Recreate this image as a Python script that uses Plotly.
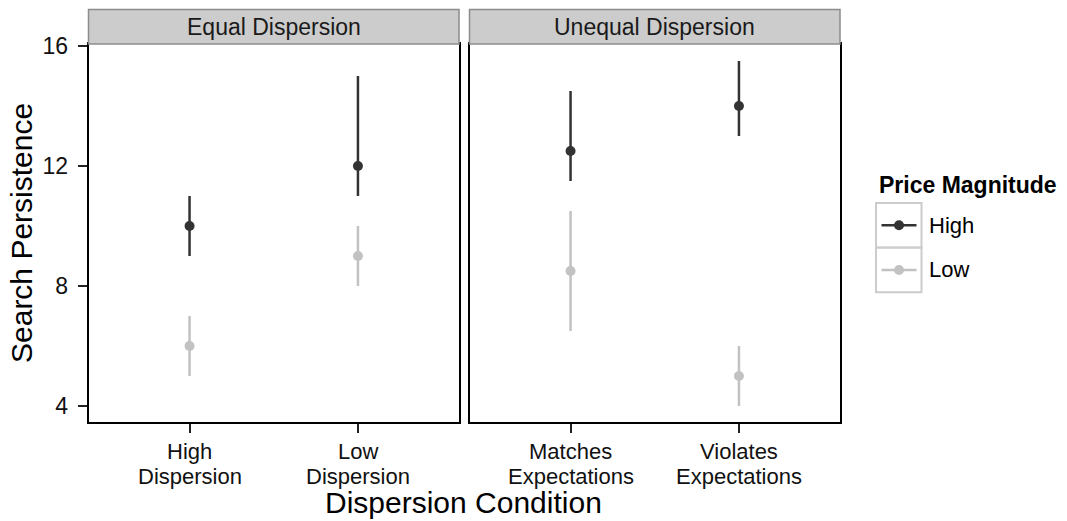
import plotly.graph_objects as go

# Facet panels and the conditions inside each
panels = ["Equal Dispersion", "Unequal Dispersion"]
conditions = [
    [("High", "Dispersion"), ("Low", "Dispersion")],
    [("Matches", "Expectations"), ("Violates", "Expectations")],
]

# Means and interval bounds per panel, for each price magnitude
high_mean = [[10.0, 12.0], [12.5, 14.0]]
high_lo = [[9.0, 11.0], [11.5, 13.0]]
high_hi = [[11.0, 15.0], [14.5, 15.5]]

low_mean = [[6.0, 9.0], [8.5, 5.0]]
low_lo = [[5.0, 8.0], [6.5, 4.0]]
low_hi = [[7.0, 10.0], [10.5, 6.0]]

series_names = ["High", "Low"]
y_ticks = [4, 8, 12, 16]

W, H = 1067, 521
DARK = "#333333"
LIGHT = "#c2c2c2"
FONT = "Liberation Sans, Arial, sans-serif"


def px_x(x):
    """Pixel column -> paper x."""
    return x / W


def px_y(y):
    """Pixel row (from top) -> paper y."""
    return 1 - y / H


fig = go.Figure()

series = [
    (series_names[0], DARK, high_mean, high_lo, high_hi),
    (series_names[1], LIGHT, low_mean, low_lo, low_hi),
]

for p in range(2):
    xa = "x" if p == 0 else "x2"
    ya = "y" if p == 0 else "y2"
    for name, col, m, lo, hi in series:
        fig.add_trace(go.Scatter(
            x=[1, 2], y=m[p], xaxis=xa, yaxis=ya, mode="markers", name=name,
            showlegend=False,
            marker=dict(color=col, size=10),
            error_y=dict(type="data", symmetric=False,
                         array=[h - v for h, v in zip(hi[p], m[p])],
                         arrayminus=[v - l for v, l in zip(m[p], lo[p])],
                         color=col, thickness=2.5, width=0),
        ))

dom1 = [px_x(88.5), px_x(459)]
dom2 = [px_x(469.5), px_x(840)]
ydom = [px_y(422), px_y(44)]
yrange = [3.467, 16.067]

axis_common = dict(
    automargin=False,
    showline=True, mirror=True, linecolor="black", linewidth=1.5,
    showgrid=False, zeroline=False, ticklen=9,
    tickwidth=2, tickcolor="#222222",
    tickfont=dict(family=FONT, size=23, color="#111111"),
)

fig.update_layout(
    width=W, height=H, autosize=False,
    margin=dict(l=0, r=0, t=0, b=0, pad=0),
    paper_bgcolor="white", plot_bgcolor="white",
    font=dict(family=FONT),
    xaxis=dict(domain=dom1, range=[0.4, 2.6], tickvals=[1, 2], ticks="outside",
               showticklabels=False, anchor="y", **axis_common),
    xaxis2=dict(domain=dom2, range=[0.4, 2.6], tickvals=[1, 2], ticks="outside",
                showticklabels=False, anchor="y2", **axis_common),
    yaxis=dict(domain=ydom, range=yrange, tickvals=y_ticks, ticks="outside",
               ticklabelstandoff=5, anchor="x", **axis_common),
    yaxis2=dict(domain=ydom, range=yrange, tickvals=y_ticks, ticks="",
                anchor="x2", matches="y", showticklabels=False, **axis_common),
)

shapes = []
annotations = []

# Category labels under each panel, two lines each
for p, xref in enumerate(["x", "x2"]):
    for i, (line1, line2) in enumerate(conditions[p]):
        for txt, yc in ((line1, 451), (line2, 476)):
            annotations.append(dict(xref=xref, yref="paper", x=i + 1, y=px_y(yc),
                                    text=txt, showarrow=False,
                                    xanchor="center", yanchor="middle",
                                    font=dict(family=FONT, size=22, color="#111111")))

# Facet strips
for dom, label in zip([dom1, dom2], panels):
    shapes.append(dict(type="rect", xref="paper", yref="paper",
                       x0=dom[0], x1=dom[1], y0=px_y(44), y1=px_y(9.5),
                       fillcolor="#cccccc", line=dict(color="#8c8c8c", width=1.5),
                       layer="above"))
    annotations.append(dict(xref="paper", yref="paper", x=(dom[0] + dom[1]) / 2,
                            y=px_y(27), text=label, showarrow=False,
                            xanchor="center", yanchor="middle",
                            font=dict(family=FONT, size=23, color="#1a1a1a")))

# Axis titles
annotations.append(dict(xref="paper", yref="paper", x=px_x(21), y=px_y(233),
                        text="Search Persistence", textangle=-90, showarrow=False,
                        xanchor="center", yanchor="middle",
                        font=dict(family=FONT, size=30, color="black")))
annotations.append(dict(xref="paper", yref="paper", x=px_x(463), y=px_y(502),
                        text="Dispersion Condition", showarrow=False,
                        xanchor="center", yanchor="middle",
                        font=dict(family=FONT, size=30, color="black")))

# Legend
annotations.append(dict(xref="paper", yref="paper", x=px_x(877), y=px_y(185),
                        text="<b>Price Magnitude</b>", showarrow=False,
                        xanchor="left", yanchor="middle",
                        font=dict(family=FONT, size=23, color="black")))
key_tops = [203, 247.7]
for (name, col, *_), top in zip(series, key_tops):
    bot = top + 44.5
    cy = (top + bot) / 2
    shapes.append(dict(type="rect", xref="paper", yref="paper",
                       x0=px_x(876), x1=px_x(921.5), y0=px_y(bot), y1=px_y(top),
                       fillcolor="white", line=dict(color="#cccccc", width=2)))
    shapes.append(dict(type="line", xref="paper", yref="paper",
                       x0=px_x(881.5), x1=px_x(916.5), y0=px_y(cy), y1=px_y(cy),
                       line=dict(color=col, width=2.5)))
    shapes.append(dict(type="circle", xref="paper", yref="paper",
                       x0=px_x(894), x1=px_x(904), y0=px_y(cy + 5), y1=px_y(cy - 5),
                       fillcolor=col, line=dict(color=col, width=0)))
    annotations.append(dict(xref="paper", yref="paper", x=px_x(927), y=px_y(cy),
                            text=name, showarrow=False, xanchor="left",
                            yanchor="middle",
                            font=dict(family=FONT, size=22, color="black")))

fig.update_layout(shapes=shapes, annotations=annotations)

fig.write_html("out.html")
